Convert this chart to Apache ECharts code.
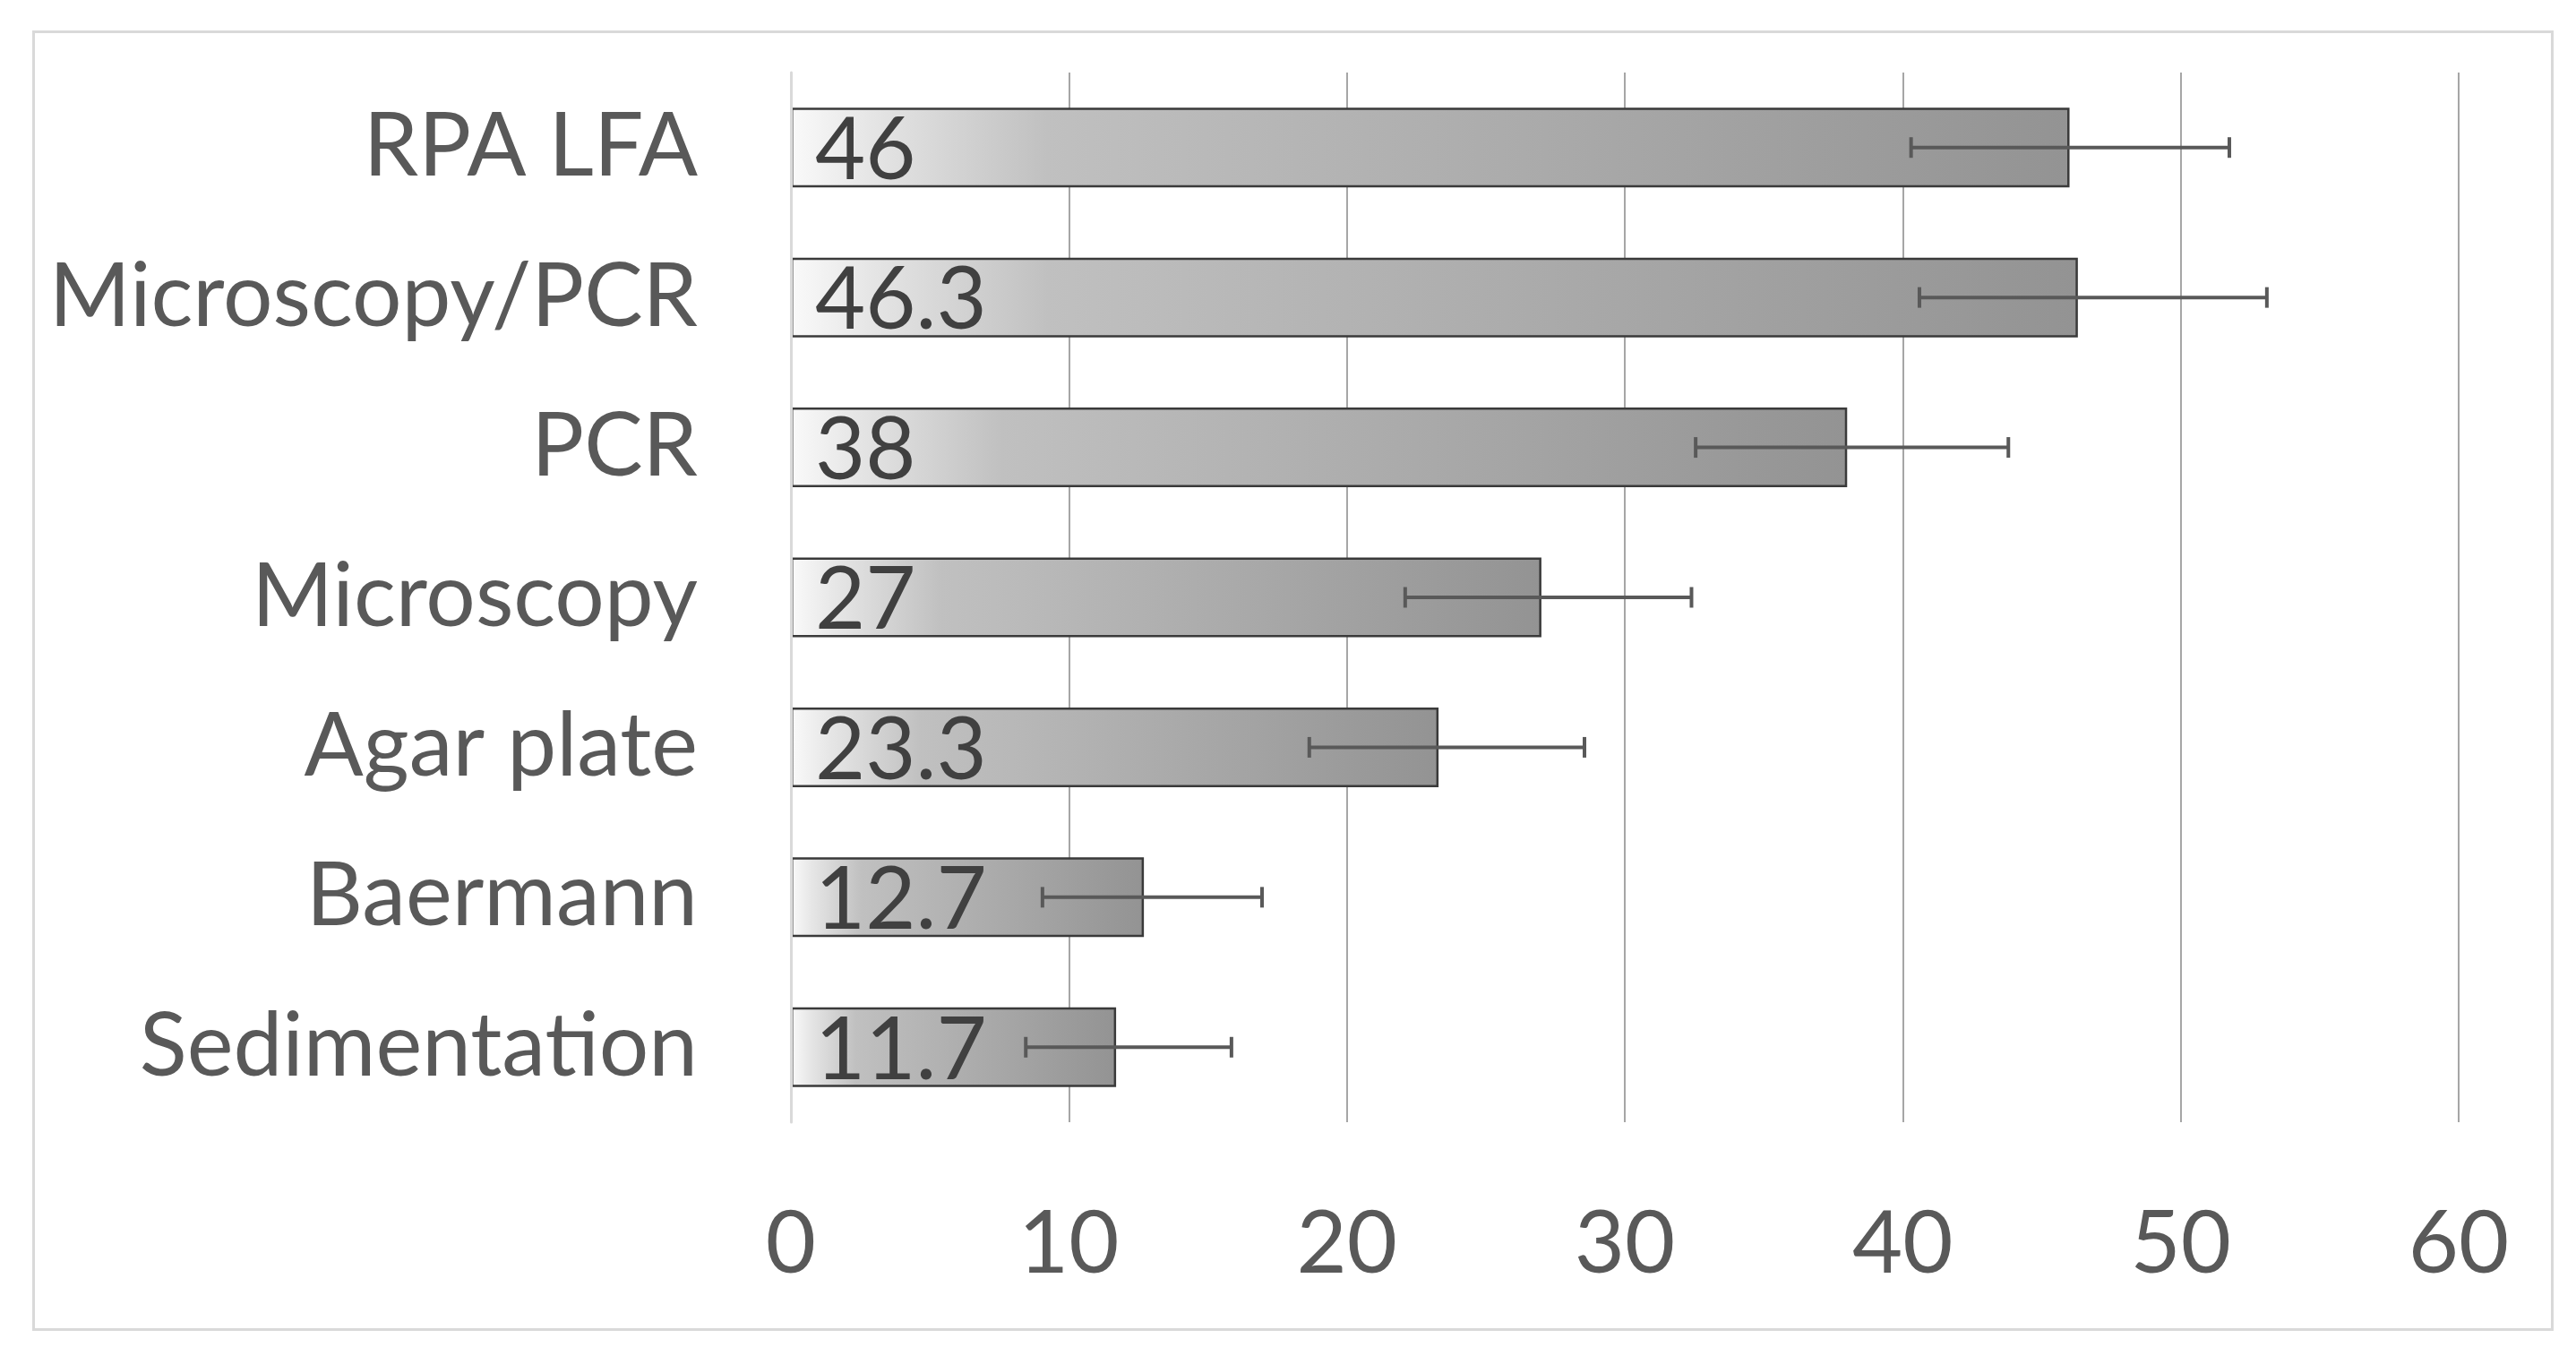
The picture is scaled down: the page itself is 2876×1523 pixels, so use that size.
<!DOCTYPE html>
<html><head><meta charset="utf-8">
<script src="https://cdn.jsdelivr.net/npm/echarts@6/dist/echarts.min.js"></script>
<style>html,body{margin:0;padding:0;background:#fff}#c{width:2876px;height:1523px}</style>
</head><body><div id="c"></div>
<script>
const categories = ['RPA LFA', 'Microscopy/PCR', 'PCR', 'Microscopy', 'Agar plate', 'Baermann', 'Sedimentation'];
const values = [46, 46.3, 38, 27, 23.3, 12.7, 11.7];
const errLow = [40.3, 40.6, 32.55, 22.1, 18.65, 9.05, 8.45];
const errHigh = [51.75, 53.1, 43.8, 32.4, 28.55, 16.95, 15.85];
const xTicks = [0, 10, 20, 30, 40, 50, 60];

const FONT = 'Lato, "Open Sans", sans-serif';
const chart = echarts.init(document.getElementById('c'), null, {renderer: 'canvas'});
const errData = categories.map((c, i) => [errLow[i], errHigh[i], i]);

chart.setOption({
  backgroundColor: '#ffffff',
  animation: false,
  graphic: [{
    type: 'rect', left: 35, top: 33, z: -10,
    shape: {width: 2812, height: 1449},
    style: {fill: 'none', stroke: '#d9d9d9', lineWidth: 3}
  }],
  grid: {left: 883, right: 131, top: 81, bottom: 270, containLabel: false},
  xAxis: {
    type: 'value', min: xTicks[0], max: xTicks[xTicks.length - 1], interval: 10,
    axisLine: {show: false}, axisTick: {show: false},
    splitLine: {show: true, lineStyle: {color: '#a6a6a6', width: 2}},
    axisLabel: {fontFamily: FONT, fontSize: 97, color: '#595959', margin: 88}
  },
  yAxis: {
    type: 'category', data: categories, inverse: true, z: 4,
    axisLine: {show: true, lineStyle: {color: '#d9d9d9', width: 3}},
    axisTick: {show: false},
    axisLabel: {fontFamily: FONT, fontSize: 98, color: '#595959', margin: 104}
  },
  series: [{
    type: 'bar', data: values, barWidth: 89, z: 2,
    itemStyle: {
      borderColor: '#3a3a3a', borderWidth: 2.5,
      color: new echarts.graphic.LinearGradient(0, 0, 1, 0, [
        {offset: 0, color: '#fafafa'},
        {offset: 0.06, color: '#e6e6e6'},
        {offset: 0.2, color: '#c0c0c0'},
        {offset: 1, color: '#939393'}
      ])
    },
    label: {
      show: true, position: 'insideLeft', distance: 27, offset: [0, 4],
      fontFamily: FONT, fontSize: 97, color: '#404040',
      formatter: p => String(p.value)
    }
  }, {
    type: 'custom', z: 5, data: errData,
    encode: {x: [0, 1], y: 2},
    renderItem: function (params, api) {
      const idx = api.value(2);
      const lo = api.coord([api.value(0), idx]);
      const hi = api.coord([api.value(1), idx]);
      const capH = 23;
      const st = {stroke: '#595959', lineWidth: 4};
      return {type: 'group', children: [
        {type: 'line', shape: {x1: lo[0], y1: lo[1], x2: hi[0], y2: hi[1]}, style: st},
        {type: 'line', shape: {x1: lo[0], y1: lo[1] - capH / 2, x2: lo[0], y2: lo[1] + capH / 2}, style: st},
        {type: 'line', shape: {x1: hi[0], y1: hi[1] - capH / 2, x2: hi[0], y2: hi[1] + capH / 2}, style: st}
      ]};
    }
  }]
});
</script></body></html>
